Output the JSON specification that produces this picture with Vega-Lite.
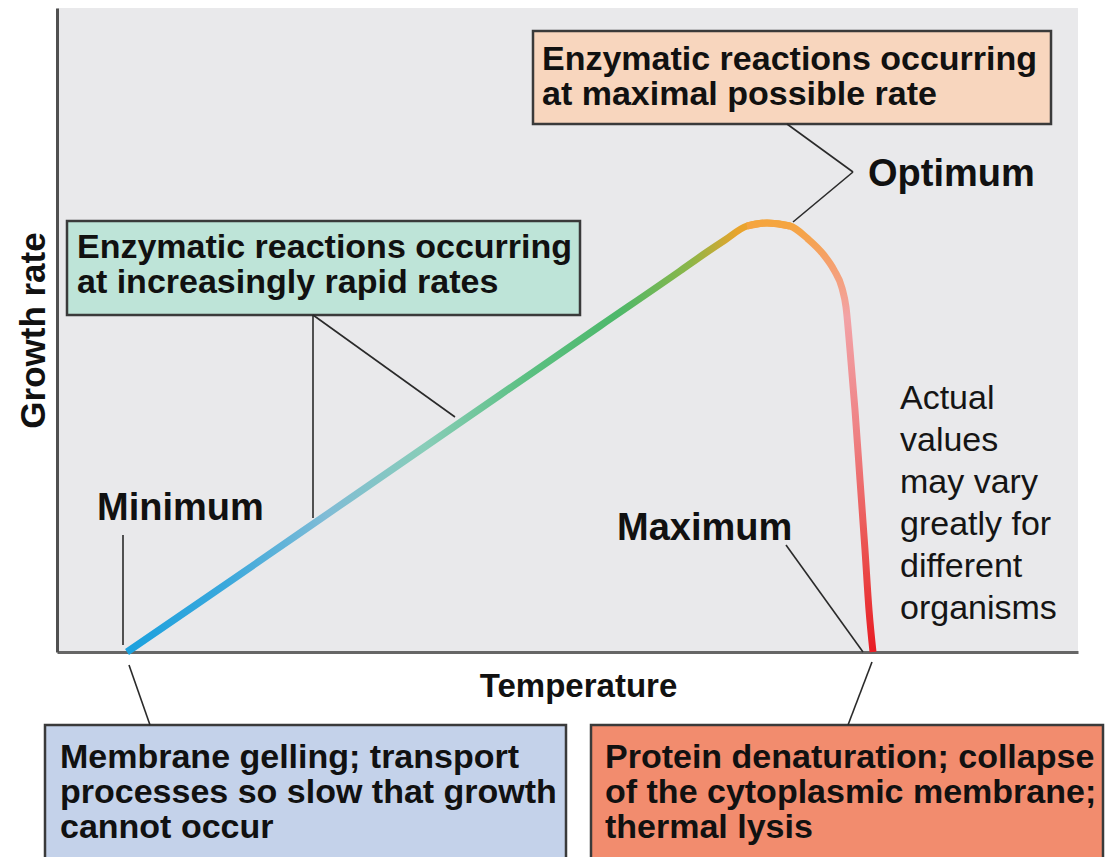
{
  "$schema": "https://vega.github.io/schema/vega-lite/v6.json",
  "width": 1021,
  "height": 644,
  "autosize": "none",
  "padding": {"left": 57, "top": 8, "right": 33, "bottom": 205},
  "background": "white",
  "view": {"fill": "#e9e9eb", "stroke": null},
  "config": {"font": "Liberation Sans"},
  "datasets": {
    "curve": [
      {"seg": "rise", "t": 70, "g": 0},
      {"seg": "rise", "t": 143, "g": 50},
      {"seg": "rise", "t": 243, "g": 119},
      {"seg": "rise", "t": 343, "g": 188},
      {"seg": "rise", "t": 443, "g": 257},
      {"seg": "rise", "t": 543, "g": 326},
      {"seg": "rise", "t": 623, "g": 381},
      {"seg": "rise", "t": 650, "g": 400},
      {"seg": "rise", "t": 668, "g": 412},
      {"seg": "rise", "t": 690, "g": 426},
      {"seg": "rise", "t": 710, "g": 429},
      {"seg": "rise", "t": 733, "g": 426},
      {"seg": "fall", "t": 690, "g": 426},
      {"seg": "fall", "t": 710, "g": 429},
      {"seg": "fall", "t": 733, "g": 426},
      {"seg": "fall", "t": 751, "g": 413},
      {"seg": "fall", "t": 766, "g": 398},
      {"seg": "fall", "t": 777, "g": 382},
      {"seg": "fall", "t": 785, "g": 364},
      {"seg": "fall", "t": 789, "g": 345},
      {"seg": "fall", "t": 793, "g": 302},
      {"seg": "fall", "t": 798, "g": 242},
      {"seg": "fall", "t": 803, "g": 172},
      {"seg": "fall", "t": 808, "g": 102},
      {"seg": "fall", "t": 812, "g": 42},
      {"seg": "fall", "t": 816, "g": 0}
    ],
    "boxes": [
      {"box": "optimum", "t": 476, "t2": 994, "g": 621, "g2": 528},
      {"box": "rising", "t": 10, "t2": 523, "g": 431, "g2": 337},
      {"box": "minimum", "t": -12, "t2": 509, "g": -73, "g2": -218},
      {"box": "maximum", "t": 534, "t2": 1046, "g": -73, "g2": -218}
    ],
    "boxText": [
      {"t": 485, "g": 582, "label": "Enzymatic reactions occurring\nat maximal possible rate"},
      {"t": 20, "g": 394, "label": "Enzymatic reactions occurring\nat increasingly rapid rates"},
      {"t": 3, "g": -116, "label": "Membrane gelling; transport\nprocesses so slow that growth\ncannot occur"},
      {"t": 548, "g": -116, "label": "Protein denaturation; collapse\nof the cytoplasmic membrane;\nthermal lysis"}
    ],
    "labels": [
      {"t": 40, "g": 132, "label": "Minimum"},
      {"t": 811, "g": 466, "label": "Optimum"},
      {"t": 560, "g": 112, "label": "Maximum"}
    ],
    "note": [
      {"t": 843, "g": 243, "label": "Actual\nvalues\nmay vary\ngreatly for\ndifferent\norganisms"}
    ],
    "callouts": [
      {"t": 730, "g": 528, "t2": 796, "g2": 480},
      {"t": 796, "g": 480, "t2": 736, "g2": 430},
      {"t": 256, "g": 337, "t2": 256, "g2": 134},
      {"t": 256, "g": 337, "t2": 398, "g2": 235},
      {"t": 66, "g": 117, "t2": 66, "g2": 7},
      {"t": 72, "g": -13, "t2": 93, "g2": -73},
      {"t": 729, "g": 107, "t2": 806, "g2": 0},
      {"t": 815, "g": -10, "t2": 791, "g2": -73}
    ]
  },
  "encoding": {
    "x": {
      "field": "t", "type": "quantitative",
      "scale": {"domain": [0, 1021], "nice": false, "zero": false},
      "axis": {
        "title": "Temperature", "domain": true, "domainColor": "#666666", "domainWidth": 3,
        "ticks": false, "labels": false, "grid": false,
        "titleFont": "Liberation Sans", "titleFontSize": 33, "titleFontWeight": "bold",
        "titleColor": "#111111", "titlePadding": 18, "titleX": 521
      }
    },
    "y": {
      "field": "g", "type": "quantitative",
      "scale": {"domain": [0, 644], "nice": false, "zero": false},
      "axis": {
        "title": "Growth rate", "domain": true, "domainColor": "#505050", "domainWidth": 3,
        "ticks": false, "labels": false, "grid": false,
        "titleFont": "Liberation Sans", "titleFontSize": 35, "titleFontWeight": "bold",
        "titleColor": "#111111", "titlePadding": 6
      }
    }
  },
  "layer": [
    {
      "data": {"name": "boxes"},
      "mark": {"type": "rect", "stroke": "#3a3a3a", "strokeWidth": 2.5},
      "encoding": {
        "x2": {"field": "t2"},
        "y2": {"field": "g2"},
        "fill": {
          "field": "box", "type": "nominal", "legend": null,
          "scale": {"domain": ["optimum", "rising", "minimum", "maximum"], "range": ["#f8d6be", "#bee4d8", "#c4d2ea", "#f28c6e"]}
        }
      }
    },
    {
      "data": {"name": "callouts"},
      "mark": {"type": "rule", "stroke": "#2a2a2a", "strokeWidth": 1.6},
      "encoding": {"x2": {"field": "t2"}, "y2": {"field": "g2"}}
    },
    {
      "data": {"name": "curve"},
      "transform": [{"filter": "datum.seg === 'rise'"}],
      "mark": {
        "type": "line", "interpolate": "monotone", "strokeWidth": 7, "strokeCap": "butt",
        "stroke": {
          "gradient": "linear", "x1": 0, "y1": 0, "x2": 1, "y2": 0,
          "stops": [
            {"offset": 0, "color": "#1ba1de"},
            {"offset": 0.15, "color": "#3aa8dc"},
            {"offset": 0.3, "color": "#80bcd6"},
            {"offset": 0.45, "color": "#88cdb8"},
            {"offset": 0.6, "color": "#5cc083"},
            {"offset": 0.74, "color": "#4db86a"},
            {"offset": 0.85, "color": "#8db648"},
            {"offset": 0.92, "color": "#e8a42c"},
            {"offset": 1, "color": "#f5a23a"}
          ]
        }
      }
    },
    {
      "data": {"name": "curve"},
      "transform": [{"filter": "datum.seg === 'fall'"}],
      "mark": {
        "type": "line", "interpolate": "monotone", "strokeWidth": 7, "strokeCap": "butt",
        "stroke": {
          "gradient": "linear", "x1": 0, "y1": 0, "x2": 0, "y2": 1,
          "stops": [
            {"offset": 0, "color": "#f5a53e"},
            {"offset": 0.1, "color": "#f5a070"},
            {"offset": 0.22, "color": "#f2a2a6"},
            {"offset": 0.5, "color": "#ee8082"},
            {"offset": 0.8, "color": "#ea4a48"},
            {"offset": 1, "color": "#e81c24"}
          ]
        }
      }
    },
    {
      "data": {"name": "boxText"},
      "mark": {"type": "text", "align": "left", "baseline": "alphabetic", "lineBreak": "\n", "lineHeight": 35, "fontSize": 34, "fontWeight": "bold", "color": "#111111"},
      "encoding": {"text": {"field": "label"}}
    },
    {
      "data": {"name": "labels"},
      "mark": {"type": "text", "align": "left", "baseline": "alphabetic", "fontSize": 38, "fontWeight": "bold", "color": "#111111"},
      "encoding": {"text": {"field": "label"}}
    },
    {
      "data": {"name": "note"},
      "mark": {"type": "text", "align": "left", "baseline": "alphabetic", "lineBreak": "\n", "lineHeight": 42, "fontSize": 34, "fontWeight": "normal", "color": "#151515"},
      "encoding": {"text": {"field": "label"}}
    }
  ]
}
